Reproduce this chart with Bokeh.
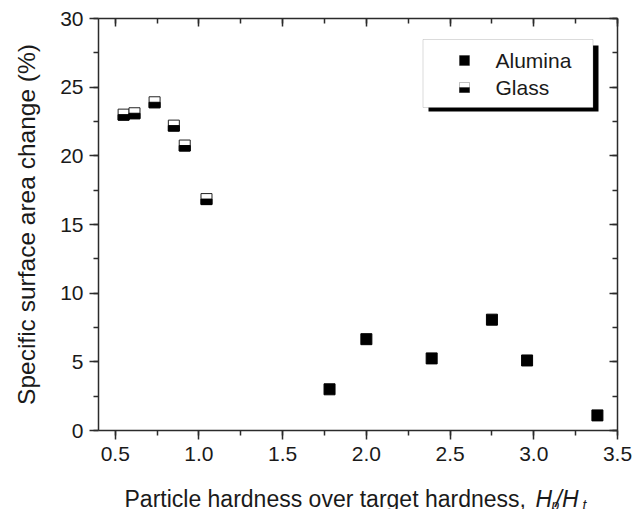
from bokeh.plotting import figure
from bokeh.layouts import column
from bokeh.models import (Range1d, LinearAxis, SingleIntervalTicker, BoxAnnotation,
                          Label, ColumnDataSource, PrintfTickFormatter)
from bokeh.transform import dodge
from bokeh.embed import file_html
from bokeh.resources import INLINE

# ---- data ----
alumina_x = [1.78, 2.00, 2.39, 2.75, 2.96, 3.38]
alumina_y = [3.0, 6.65, 5.25, 8.07, 5.1, 1.1]
glass_x = [0.55, 0.615, 0.735, 0.85, 0.915, 1.045]
glass_y = [23.0, 23.1, 23.9, 22.2, 20.75, 16.85]
series_names = ["Alumina", "Glass"]
x_label_main = "Particle hardness over target hardness, "
y_label = "Specific surface area change (%)"

XMIN, XMAX, YMIN, YMAX = 0.4, 3.5, 0.0, 30.0
FONT = "Liberation Sans"
INK = "#1a1a1a"
AX = "#2b2b2b"

W, H_MAIN, H_TITLE = 633, 480, 29
FL, FR, FT, FB = 98.0, 617.0, 18.0, 430.0

p = figure(width=W, height=H_MAIN, output_backend="svg", toolbar_location=None,
           x_range=Range1d(XMIN, XMAX), y_range=Range1d(YMIN, YMAX),
           min_border_left=int(FL), min_border_right=int(W - FR), min_border_top=int(FT),
           min_border_bottom=int(H_MAIN - FB), x_axis_location=None, y_axis_location=None)
p.outline_line_color = None
p.xgrid.visible = False
p.ygrid.visible = False
p.background_fill_color = "white"
p.border_fill_color = "white"

def dx(px):
    return XMIN + (px - FL) / (FR - FL) * (XMAX - XMIN)
def dy(py):
    return YMIN + (FB - py) / (FB - FT) * (YMAX - YMIN)


def make_axis(interval, outer, fmt=None):
    ax = LinearAxis(ticker=SingleIntervalTicker(interval=interval, num_minor_ticks=2))
    if fmt:
        ax.formatter = PrintfTickFormatter(format=fmt)
    ax.axis_line_color = AX
    ax.axis_line_width = 1.5
    ax.major_tick_line_color = AX
    ax.major_tick_line_width = 1.5
    ax.minor_tick_line_color = AX
    ax.minor_tick_line_width = 1.5
    if outer:
        ax.major_tick_out = 9
        ax.major_tick_in = 0
        ax.minor_tick_out = 5
        ax.minor_tick_in = 0
        ax.major_label_text_font = FONT
        ax.major_label_text_font_size = "21px"
        ax.major_label_text_color = INK
    else:
        ax.major_tick_out = 0
        ax.major_tick_in = 8
        ax.minor_tick_out = 0
        ax.minor_tick_in = 5
        ax.major_label_text_font_size = "0px"
        ax.major_label_standoff = 0
        ax.major_label_text_alpha = 0
    return ax

xb = make_axis(0.5, True, "%.1f")
xb.major_label_standoff = 7
p.add_layout(xb, "below")
yl = make_axis(5, True)
yl.major_label_standoff = 6
yl.axis_label = y_label
yl.axis_label_text_font = FONT
yl.axis_label_text_font_size = "24.5px"
yl.axis_label_text_font_style = "normal"
yl.axis_label_text_color = INK
yl.axis_label_standoff = 17
p.add_layout(yl, "left")
p.add_layout(make_axis(0.5, False), "above")
p.add_layout(make_axis(5, False), "right")

# ---- data marks ----
src_a = ColumnDataSource(dict(x=alumina_x, y=alumina_y))
src_g = ColumnDataSource(dict(x=glass_x, y=glass_y))
p.scatter("x", "y", source=src_a, marker="square", size=11,
          fill_color="black", line_color="black")
p.rect("x", "y", source=src_g, width=11, height=11, width_units="screen",
       height_units="screen", fill_color="white", line_color="#222", line_width=1)
half = 2.75 / (FB - FT) * (YMAX - YMIN)
p.rect("x", dodge("y", -half), source=src_g, width=11, height=5.5,
       width_units="screen", height_units="screen", fill_color="black",
       line_color="black", line_width=1)

# ---- legend (manual, with drop shadow) ----
p.add_layout(BoxAnnotation(left=dx(428), right=dx(598), top=dy(45), bottom=dy(111),
                           fill_color="black", fill_alpha=1, line_color=None))
p.add_layout(BoxAnnotation(left=dx(422.5), right=dx(592.5), top=dy(39), bottom=dy(107),
                           fill_color="white", fill_alpha=1, line_color="#888",
                           line_width=1))
p.add_layout(BoxAnnotation(left=dx(459), right=dx(469), top=dy(55), bottom=dy(65),
                           fill_color="black", fill_alpha=1, line_color="black"))
p.add_layout(BoxAnnotation(left=dx(459), right=dx(469), top=dy(82), bottom=dy(92),
                           fill_color="white", fill_alpha=1, line_color="#333"))
p.add_layout(BoxAnnotation(left=dx(459), right=dx(469), top=dy(87), bottom=dy(92),
                           fill_color="black", fill_alpha=1, line_color="black"))
for name, yc in zip(series_names, [60, 87]):
    p.add_layout(Label(x=dx(495), y=dy(yc), text=name, text_font=FONT,
                       text_font_size="21px", text_color=INK, text_baseline="middle",
                       text_align="left"))

# ---- x axis title strip (italic H with subscripts) ----
# the column layout aligns this strip's frame with the main frame (FL..FR)
t = figure(width=W, height=H_TITLE, output_backend="svg", toolbar_location=None,
           x_range=Range1d(FL, FR), y_range=Range1d(0, H_TITLE), min_border=0,
           x_axis_location=None, y_axis_location=None)
t.outline_line_color = None
t.xgrid.visible = False
t.ygrid.visible = False
t.background_fill_color = "white"
t.border_fill_color = "white"
TOP = H_MAIN  # image y of strip top

def lab(text, xi, yi, size, style="normal"):
    t.add_layout(Label(x=xi, y=TOP + H_TITLE - yi, text=text, text_font=FONT,
                       text_font_size=size, text_font_style=style,
                       text_color=INK, text_baseline="alphabetic", text_align="left"))

lab(x_label_main, 124, 498, "23px")
lab("H", 535, 498, "23px", "italic")
lab("p", 551, 504, "14px", "italic")
lab("/H", 555, 498, "23px", "italic")
lab("t", 582, 504, "14px", "italic")

open("out.html", "w").write(file_html(column(p, t, spacing=0), INLINE))
